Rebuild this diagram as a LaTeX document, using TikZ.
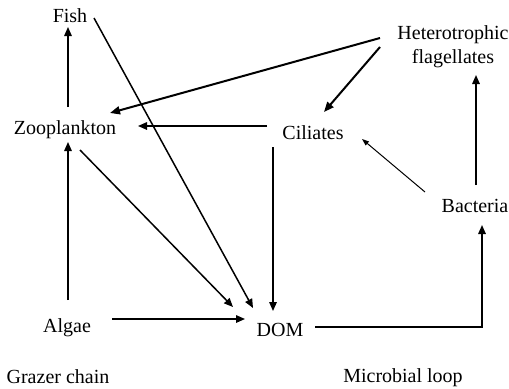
\documentclass[tikz,border=0pt]{standalone}
\usepackage{fontspec}
\setmainfont{Liberation Serif}
\usetikzlibrary{arrows.meta,calc}
\begin{document}
\begin{tikzpicture}[x=1bp,y=-1bp,
  lbl/.style={font=\fontsize{20bp}{24bp}\selectfont, inner sep=0pt, anchor=base},
  arr/.style={line width=1.5bp, -{Triangle[length=9bp,width=7.5bp]}},
  arrthick/.style={line width=2bp, -{Triangle[length=10bp,width=8bp]}},
  arrthin/.style={line width=1bp, -{Triangle[length=7bp,width=5bp]}}]
\useasboundingbox (0,0) rectangle (509,388);
\node[lbl] (fish) at (70,22) {Fish};
\node[lbl] (zoo) at (65,134) {Zooplankton};
\node[lbl] (algae) at (67,332) {Algae};
\node[lbl] (dom) at (280,336) {DOM};
\node[lbl] (cil) at (313,139) {Ciliates};
\node[lbl] (bact) at (475,212) {Bacteria};
\node[font=\fontsize{20bp}{24bp}\selectfont, inner sep=0pt, align=center] (hf) at (453,47) {Heterotrophic\\flagellates};
\node[lbl] (grazer) at (58,383) {Grazer chain};
\node[lbl] (micro) at (403,382) {Microbial loop};
% connectors
\draw[arr] ($(zoo.base)+(3,-27)$) -- ($(fish.base)+(-2,5)$);
\draw[arr] ($(fish.base)+(24,-4)$) -- ($(dom.base)+(-27,-28)$);
\draw[arrthick] ($(hf.center)+(-73,-9)$) -- ($(zoo.base)+(45,-21)$);
\draw[arrthick] ($(hf.center)+(-73,0)$) -- ($(cil.base)+(11,-27)$);
\draw[arr] ($(cil.base)+(-46,-13)$) -- ($(zoo.base)+(73,-8)$);
\draw[arr] ($(cil.base)+(-40,8)$) -- ($(dom.base)+(-7,-25)$);
\draw[arrthin] ($(bact.base)+(-50,-20)$) -- ($(cil.base)+(49,0)$);
\draw[arr] ($(bact.base)+(1,-27)$) -- ($(hf.center)+(23,28)$);
\draw[arr] ($(algae.base)+(1,-32)$) -- ($(zoo.base)+(3,8)$);
\draw[arr] ($(zoo.base)+(15,16)$) -- ($(dom.base)+(-47,-29)$);
\draw[arr] ($(algae.base)+(45,-13)$) -- ($(dom.base)+(-35,-17)$);
\draw[arr] ($(dom.base)+(35,-9)$) -| ($(bact.base)+(7,13)$);
\end{tikzpicture}
\end{document}
